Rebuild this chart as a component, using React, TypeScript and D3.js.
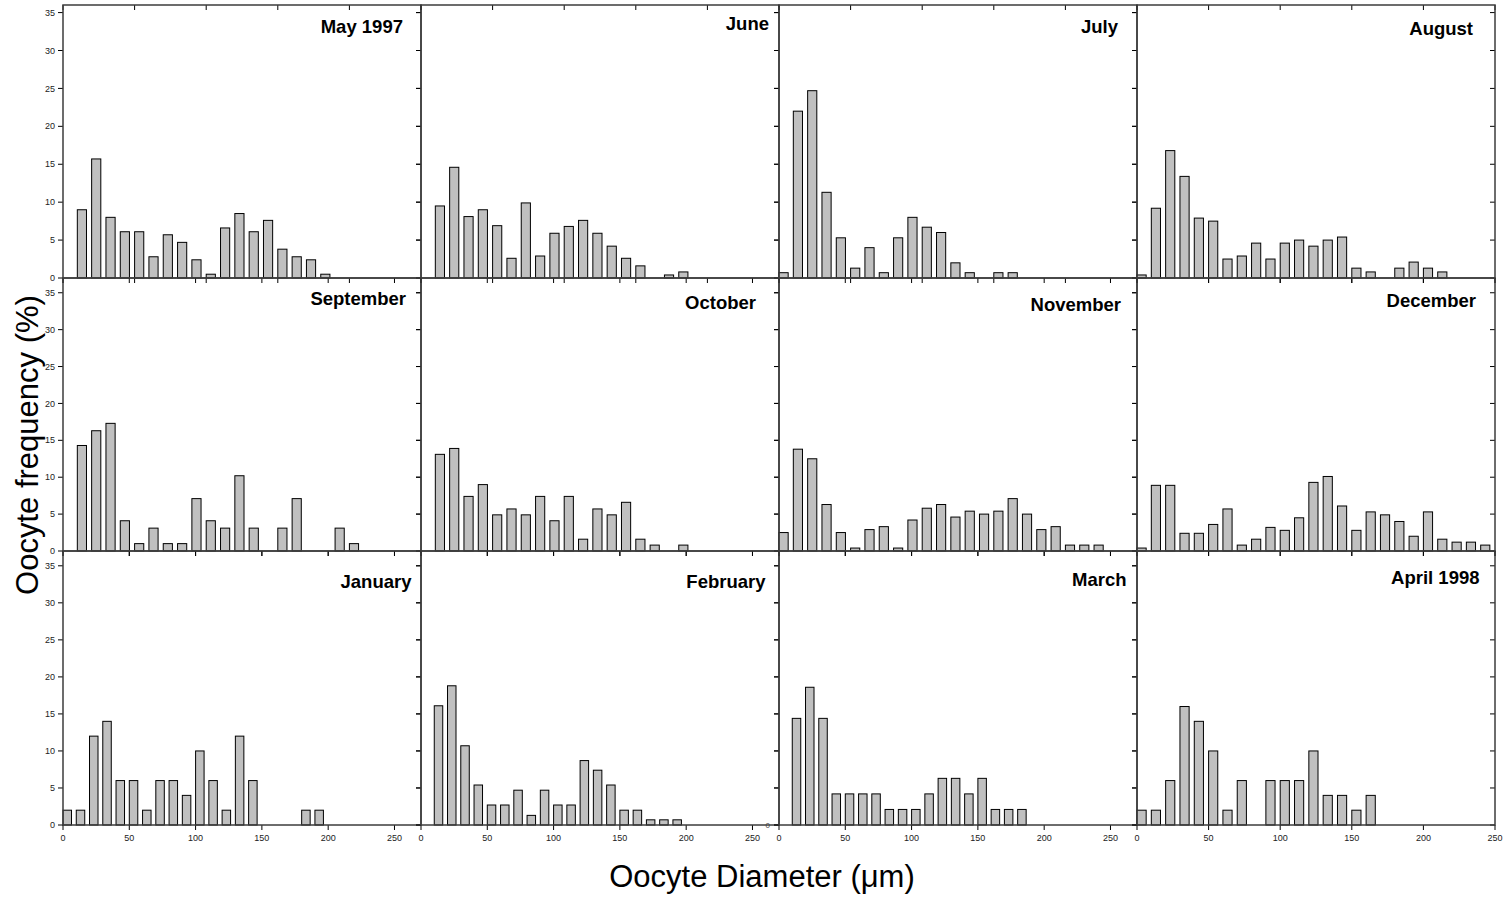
import React from "react";
import * as d3 from "d3";

// Oocyte size-frequency histograms, one per monthly sample (10 µm bins, index 0 = 0–10 µm)
const panelTitles = [
  "May 1997", "June", "July", "August",
  "September", "October", "November", "December",
  "January", "February", "March", "April 1998",
];

const may1997 = [0, 9.0, 15.7, 8.0, 6.1, 6.1, 2.8, 5.7, 4.7, 2.4, 0.5, 6.6, 8.5, 6.1, 7.6, 3.8, 2.8, 2.4, 0.5];
const june = [0, 9.5, 14.6, 8.1, 9.0, 6.9, 2.6, 9.9, 2.9, 5.9, 6.8, 7.6, 5.9, 4.2, 2.6, 1.6, 0, 0.4, 0.8];
const july = [0.7, 22.0, 24.7, 11.3, 5.3, 1.3, 4.0, 0.7, 5.3, 8.0, 6.7, 6.0, 2.0, 0.7, 0, 0.7, 0.7];
const august = [0.4, 9.2, 16.8, 13.4, 7.9, 7.5, 2.5, 2.9, 4.6, 2.5, 4.6, 5.0, 4.2, 5.0, 5.4, 1.3, 0.8, 0, 1.3, 2.1, 1.3, 0.8];
const september = [0, 14.3, 16.3, 17.3, 4.1, 1.0, 3.1, 1.0, 1.0, 7.1, 4.1, 3.1, 10.2, 3.1, 0, 3.1, 7.1, 0, 0, 3.1, 1.0];
const october = [0, 13.1, 13.9, 7.4, 9.0, 4.9, 5.7, 4.9, 7.4, 4.1, 7.4, 1.6, 5.7, 4.9, 6.6, 1.6, 0.8, 0, 0.8];
const november = [2.5, 13.8, 12.5, 6.3, 2.5, 0.4, 2.9, 3.3, 0.4, 4.2, 5.8, 6.3, 4.6, 5.4, 5.0, 5.4, 7.1, 5.0, 2.9, 3.3, 0.8, 0.8, 0.8];
const december = [0.4, 8.9, 8.9, 2.4, 2.4, 3.6, 5.7, 0.8, 1.6, 3.2, 2.8, 4.5, 9.3, 10.1, 6.1, 2.8, 5.3, 4.9, 4.0, 2.0, 5.3, 1.6, 1.2, 1.2, 0.8];
const january = [2, 2, 12, 14, 6, 6, 2, 6, 6, 4, 10, 6, 2, 12, 6, 0, 0, 0, 2, 2];
const february = [0, 16.1, 18.8, 10.7, 5.4, 2.7, 2.7, 4.7, 1.3, 4.7, 2.7, 2.7, 8.7, 7.4, 5.4, 2.0, 2.0, 0.7, 0.7, 0.7];
const march = [0, 14.4, 18.6, 14.4, 4.2, 4.2, 4.2, 4.2, 2.1, 2.1, 2.1, 4.2, 6.3, 6.3, 4.2, 6.3, 2.1, 2.1, 2.1];
const april1998 = [2, 2, 6, 16, 14, 10, 2, 6, 0, 6, 6, 6, 10, 4, 4, 2, 4];

const monthValues = [
  may1997, june, july, august,
  september, october, november, december,
  january, february, march, april1998,
];

const binWidth = 10;
const yTicks = [0, 5, 10, 15, 20, 25, 30, 35];
const xTicks = [0, 50, 100, 150, 200, 250];

// x extent of the tick axis and of the bar scale for each panel (µm)
const axisMax = [250, 250, 250, 250, 270, 270, 270, 250, 270, 270, 270, 250];
const barMax = [250, 250, 250, 250, 250, 250, 250, 250, 270, 270, 270, 250];
const rowYMax = [36, 37, 37];

// ---- layout ----
const W = 1506;
const H = 898;
const colLeft = [63, 421, 779, 1137];
const colWidth = 358;
const rowEdges = [5, 278, 551, 825];
// title anchor: offset from panel's right edge, baseline offset from panel top
const titleOffsets: [number, number][] = [
  [-18, 28], [-10, 25], [-19, 28], [-22, 30],
  [-15, 26.5], [-23, 30.5], [-16, 32.5], [-19, 29],
  [-9.5, 36.5], [-13.5, 36.5], [-10.5, 34.5], [-15.5, 32.5],
];

const FONT = "'Liberation Sans', Arial, Helvetica, sans-serif";
const frameColor = "#3c3c3c";

function Panel({ index }: { index: number }) {
  const r = Math.floor(index / 4);
  const c = index % 4;
  const x0 = colLeft[c];
  const x1 = x0 + colWidth;
  const y0 = rowEdges[r];
  const y1 = rowEdges[r + 1];

  const xAxis = d3.scaleLinear().domain([0, axisMax[index]]).range([x0, x1]);
  const xBar = d3.scaleLinear().domain([0, barMax[index]]).range([x0, x1]);
  const y = d3.scaleLinear().domain([0, rowYMax[r]]).range([y1, y0]);
  const bw = (xBar(binWidth) - xBar(0)) * 0.64;

  const values = monthValues[index];
  const [tdx, tdy] = titleOffsets[index];

  return (
    <g>
      {values.map((v, k) =>
        v > 0 ? (
          <rect
            key={k}
            x={xBar(k * binWidth)}
            y={y(v)}
            width={bw}
            height={y(0) - y(v)}
            fill="#c0c0c0"
            stroke="#000"
            strokeWidth={1}
          />
        ) : null
      )}

      {/* y ticks: outward on the left, inward on the right */}
      {yTicks.map((t) => (
        <g key={"y" + t}>
          <line x1={x0 - 5} x2={x0} y1={y(t)} y2={y(t)} stroke="#000" strokeWidth={1} />
          <line x1={x1 - 5} x2={x1} y1={y(t)} y2={y(t)} stroke="#000" strokeWidth={1} />
        </g>
      ))}

      {/* x ticks: outward at the bottom, inward at the top */}
      {xTicks.map((t) => (
        <g key={"x" + t}>
          <line x1={xAxis(t)} x2={xAxis(t)} y1={y1} y2={y1 + 5} stroke="#000" strokeWidth={1} />
          <line x1={xAxis(t)} x2={xAxis(t)} y1={y0} y2={y0 + 5} stroke="#000" strokeWidth={1} />
        </g>
      ))}

      <rect x={x0} y={y0} width={x1 - x0} height={y1 - y0} fill="none" stroke={frameColor} strokeWidth={1.5} />

      {c === 0 &&
        yTicks.map((t) => (
          <text
            key={"yl" + t}
            x={x0 - 8}
            y={y(t)}
            dy="0.35em"
            textAnchor="end"
            fontSize={9}
            fontFamily={FONT}
            fill="#222"
          >
            {t}
          </text>
        ))}

      {r === 2 &&
        xTicks.map((t) => (
          <text
            key={"xl" + t}
            x={xAxis(t)}
            y={y1 + 16}
            textAnchor="middle"
            fontSize={9}
            fontFamily={FONT}
            fill="#222"
          >
            {t}
          </text>
        ))}

      {index === 10 && (
        <text x={x0 - 9} y={y(0)} dy="0.35em" textAnchor="end" fontSize={8} fontFamily={FONT} fill="#444">
          0
        </text>
      )}

      <text
        x={x1 + tdx}
        y={y0 + tdy}
        textAnchor="end"
        fontSize={18.5}
        fontWeight="bold"
        fontFamily={FONT}
        fill="#000"
      >
        {panelTitles[index]}
      </text>
    </g>
  );
}

export default function App() {
  return (
    <svg
      width={W}
      height={H}
      viewBox={`0 0 ${W} ${H}`}
      style={{ position: "absolute", left: 0, top: 0, background: "#fff", display: "block" }}
    >
      <rect x={0} y={0} width={W} height={H} fill="#fff" />
      {panelTitles.map((_, i) => (
        <Panel key={i} index={i} />
      ))}
      <text
        transform="translate(38,445) rotate(-90)"
        textAnchor="middle"
        fontSize={31}
        fontFamily={FONT}
        fill="#000"
      >
        Oocyte frequency (%)
      </text>
      <text x={762} y={887} textAnchor="middle" fontSize={31} fontFamily={FONT} fill="#000">
        Oocyte Diameter (μm)
      </text>
    </svg>
  );
}
